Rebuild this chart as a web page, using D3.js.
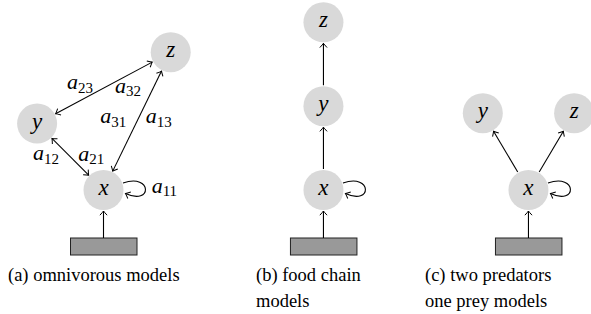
<!DOCTYPE html>
<head>
  <meta charset="utf-8">
  <script src="https://d3js.org/d3.v7.min.js"></script>
  <style>
    body { margin: 0; background: #fff; }
    svg { display: block; }
  </style>
</head>
<body>
  <svg width="591" height="314"></svg>
  <script>

  // panel origins (grid units, the x node of each panel sits at gx=0, gy=0)
  var panels = ["a", "b", "c"];
  var panelOffset = [0, 5.3, 10.24];

  // nodes of the three diagrams
  var nodes = [
    {panel: "a", id: "x", gx: 0, gy: 0},
    {panel: "a", id: "y", gx: -1.6, gy: 1.6},
    {panel: "a", id: "z", gx: 1.62, gy: 3.32},
    {panel: "b", id: "x", gx: 0, gy: 0},
    {panel: "b", id: "y", gx: 0, gy: 2.02},
    {panel: "b", id: "z", gx: 0, gy: 4.04},
    {panel: "c", id: "x", gx: 0, gy: 0},
    {panel: "c", id: "y", gx: -1.1, gy: 1.85},
    {panel: "c", id: "z", gx: 1.1, gy: 1.85}
  ];

  // interactions (both = arrow heads on both ends)
  var edges = [
    {panel: "a", from: "y", to: "z", both: true},
    {panel: "a", from: "x", to: "z", both: true},
    {panel: "a", from: "y", to: "x", both: true},
    {panel: "b", from: "x", to: "y", both: false},
    {panel: "b", from: "y", to: "z", both: false},
    {panel: "c", from: "x", to: "y", both: false},
    {panel: "c", from: "x", to: "z", both: false}
  ];

  // coefficient labels of the omnivorous model
  var coefName = ["a", "a", "a", "a", "a", "a", "a"];
  var coefSub = ["23", "32", "31", "13", "12", "21", "11"];
  var coefGx = [-0.88, 0.28, -0.08, 1.02, -1.70, -0.61, 1.16];
  var coefGy = [2.43, 2.34, 1.61, 1.61, 0.72, 0.70, -0.07];

  var captions = [
    ["(a) omnivorous models"],
    ["(b) food chain", "models"],
    ["(c) two predators", "one prey models"]
  ];

  var serif = "'Liberation Serif'";
  var svg = d3.select("svg");
  var unit = 41.5;
  var gxScale = d3.scaleLinear().domain([0, 1]).range([103.5, 103.5 + unit]);
  var gyScale = d3.scaleLinear().domain([0, 1]).range([190, 190 - unit]);
  var r = 20;

  var defs = svg.append("defs");
  defs.append("marker")
    .attr("id", "tip")
    .attr("viewBox", "-6 -5 8 10")
    .attr("refX", 0).attr("refY", 0)
    .attr("markerWidth", 8).attr("markerHeight", 10)
    .attr("markerUnits", "userSpaceOnUse")
    .attr("orient", "auto-start-reverse")
    .append("path")
    .attr("d", "M-4.2,-3.6 Q-1.2,-0.8 0,0 Q-1.2,0.8 -4.2,3.6")
    .attr("fill", "none").attr("stroke", "#000").attr("stroke-width", 1);

  function px(p, gx) { return gxScale(gx + panelOffset[panels.indexOf(p)]); }
  function py(gy) { return gyScale(gy); }
  function find(p, id) { return nodes.find(function(n) { return n.panel === p && n.id === id; }); }

  // edges between species
  edges.forEach(function(e) {
    var a = find(e.panel, e.from), b = find(e.panel, e.to);
    var x1 = px(e.panel, a.gx), y1 = py(a.gy), x2 = px(e.panel, b.gx), y2 = py(b.gy);
    var dx = x2 - x1, dy = y2 - y1, len = Math.sqrt(dx * dx + dy * dy);
    var ux = dx / len, uy = dy / len, g = r + 1;
    var line = svg.append("line")
      .attr("x1", x1 + ux * g).attr("y1", y1 + uy * g)
      .attr("x2", x2 - ux * g).attr("y2", y2 - uy * g)
      .attr("stroke", "#000").attr("stroke-width", 1.1)
      .attr("marker-end", "url(#tip)");
    if (e.both) line.attr("marker-start", "url(#tip)");
  });

  panels.forEach(function(p) {
    var cx = px(p, 0), cy = py(0);
    // resource box and input arrow
    svg.append("rect")
      .attr("x", cx - 33).attr("y", 238).attr("width", 66.5).attr("height", 17)
      .attr("fill", "#999").attr("stroke", "#222").attr("stroke-width", 1);
    svg.append("line")
      .attr("x1", cx).attr("y1", 238).attr("x2", cx).attr("y2", cy + r + 1)
      .attr("stroke", "#000").attr("stroke-width", 1.1)
      .attr("marker-end", "url(#tip)");
    // self regulation loop
    var s = [cx + 19.5, cy - 7], e = [cx + 22, cy + 3.5];
    svg.append("path")
      .attr("d", "M" + s + " C" + [cx + 49, cy - 17] + " " + [cx + 49, cy + 16] + " " + e)
      .attr("fill", "none").attr("stroke", "#000").attr("stroke-width", 1.1)
      .attr("marker-end", "url(#tip)");
  });

  // node circles and names
  svg.selectAll("circle.node").data(nodes).enter().append("circle")
    .attr("class", "node")
    .attr("cx", function(d) { return px(d.panel, d.gx); })
    .attr("cy", function(d) { return py(d.gy); })
    .attr("r", r)
    .attr("fill", "#d9d9d9");
  svg.selectAll("text.name").data(nodes).enter().append("text")
    .attr("class", "name")
    .attr("x", function(d) { return px(d.panel, d.gx); })
    .attr("y", function(d) { return py(d.gy) + 5; })
    .attr("text-anchor", "middle")
    .style("font-family", serif).style("font-style", "italic").style("font-size", "23px")
    .text(function(d) { return d.id; });

  // coefficient labels
  coefSub.forEach(function(sub, i) {
    var t = svg.append("text")
      .attr("x", px("a", coefGx[i])).attr("y", py(coefGy[i]))
      .style("font-family", serif).style("font-style", "italic").style("font-size", "22px");
    t.append("tspan").text(coefName[i]);
    t.append("tspan").style("font-style", "normal").style("font-size", "15px")
      .attr("dy", 3.5).text(sub);
  });

  // captions
  var capX = [8, 256, 425];
  captions.forEach(function(lines, i) {
    var t = svg.append("text")
      .attr("x", capX[i]).attr("y", 281)
      .style("font-family", serif).style("font-size", "18.5px");
    lines.forEach(function(l, j) {
      t.append("tspan").attr("x", capX[i]).attr("dy", j ? 26 : 0).text(l);
    });
  });

  </script>
</body>
